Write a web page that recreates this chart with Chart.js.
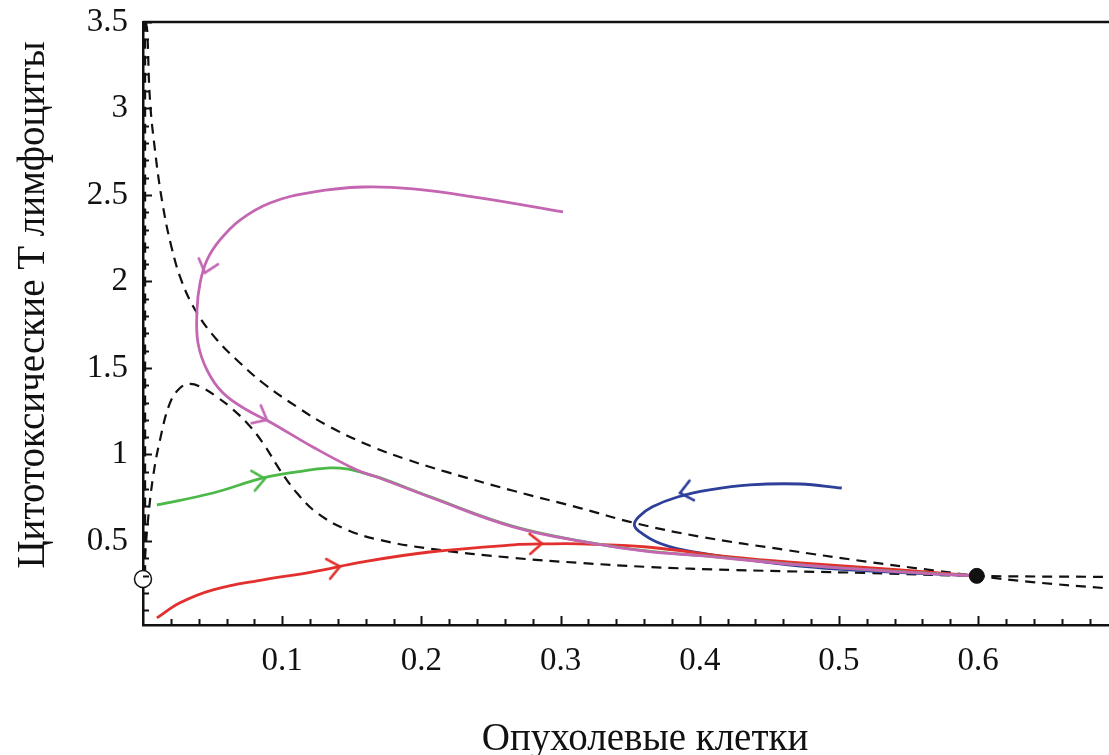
<!DOCTYPE html>
<html>
<head>
<meta charset="utf-8">
<title>Фазовый портрет</title>
<script src="https://cdn.jsdelivr.net/npm/chart.js@4.4.1/dist/chart.umd.min.js"></script>
<style>
  html, body { margin: 0; padding: 0; background: #fff; overflow: hidden; }
  canvas { display: block; }
</style>
</head>
<body>
<canvas id="phaseChart" width="1109" height="755"></canvas>
<script>
// tick labels and axis titles
var xTickValues = [0.1, 0.2, 0.3, 0.4, 0.5, 0.6];
var yTickValues = [0.5, 1, 1.5, 2, 2.5, 3, 3.5];
var xTitle = "Опухолевые клетки";
var yTitle = "Цитотоксические Т лимфоциты";

// nullclines (dashed)
var upperNullX = [0.002, 0.003, 0.005, 0.0086, 0.0136, 0.0201, 0.028, 0.0388, 0.0532, 0.0697, 0.0862, 0.1106, 0.1343, 0.1652, 0.19, 0.218, 0.266, 0.314, 0.353, 0.40, 0.46, 0.52, 0.5675, 0.599, 0.639, 0.694];
var upperNullY = [3.5, 3.454, 3.049, 2.76, 2.47, 2.211, 1.997, 1.818, 1.662, 1.529, 1.413, 1.275, 1.159, 1.043, 0.97, 0.899, 0.79, 0.69, 0.604, 0.525, 0.45, 0.38, 0.33, 0.298, 0.262, 0.225];

var lowerNullX = [0.0005, 0.0014, 0.0036, 0.0072, 0.0122, 0.0194, 0.0266, 0.0338, 0.0431, 0.0532, 0.0625, 0.0747, 0.0862, 0.0984, 0.1106, 0.125, 0.1466, 0.170, 0.206, 0.266, 0.314, 0.362, 0.424, 0.52, 0.599, 0.694];
var lowerNullY = [0.30, 0.4075, 0.621, 0.87, 1.084, 1.298, 1.384, 1.408, 1.384, 1.332, 1.275, 1.182, 1.066, 0.910, 0.777, 0.662, 0.564, 0.506, 0.455, 0.402, 0.373, 0.35, 0.332, 0.315, 0.298, 0.292];

var axisNullX = [0.0015, 0.0015];
var axisNullY = [0.30, 3.5];

// trajectories
var magentaX = [0.3017, 0.242, 0.194, 0.158, 0.122, 0.0912, 0.0697, 0.0553, 0.046, 0.041, 0.0388, 0.0395, 0.046, 0.0575, 0.0747, 0.0912, 0.122, 0.1537, 0.170, 0.206, 0.266, 0.32, 0.362, 0.40, 0.472, 0.544, 0.599];
var magentaY = [2.402, 2.483, 2.535, 2.546, 2.517, 2.454, 2.355, 2.24, 2.124, 1.991, 1.835, 1.645, 1.488, 1.355, 1.257, 1.188, 1.043, 0.910, 0.864, 0.754, 0.581, 0.49, 0.44, 0.415, 0.361, 0.321, 0.298];

var greenX = [0.01, 0.0503, 0.0862, 0.1106, 0.1343, 0.1466, 0.158, 0.170, 0.206, 0.266, 0.32, 0.362, 0.40, 0.472, 0.544, 0.599];
var greenY = [0.708, 0.777, 0.864, 0.899, 0.922, 0.916, 0.893, 0.866, 0.756, 0.584, 0.492, 0.442, 0.416, 0.362, 0.322, 0.298];

var redX = [0.01, 0.0266, 0.0503, 0.0862, 0.122, 0.158, 0.206, 0.266, 0.290, 0.314, 0.362, 0.422, 0.472, 0.544, 0.599];
var redY = [0.055, 0.142, 0.217, 0.275, 0.321, 0.379, 0.436, 0.477, 0.483, 0.483, 0.465, 0.408, 0.373, 0.332, 0.298];

var blueX = [0.502, 0.472, 0.436, 0.407, 0.384, 0.366, 0.356, 0.353, 0.357, 0.369, 0.388, 0.424, 0.472, 0.520, 0.5675, 0.599];
var blueY = [0.806, 0.829, 0.824, 0.795, 0.754, 0.697, 0.639, 0.592, 0.552, 0.494, 0.448, 0.402, 0.355, 0.327, 0.309, 0.298];

// arrow heads sitting on the trajectories
var magentaArrowX = [0.0445, 0.089];
var magentaArrowY = [2.05, 1.2];
var greenArrowX = [0.0876];
var greenArrowY = [0.86];
var redArrowX = [0.1415, 0.2866];
var redArrowY = [0.352, 0.485];
var blueArrowX = [0.3858];
var blueArrowY = [0.777];

// equilibrium points
var stableX = [0.599];
var stableY = [0.298];
var unstableX = [0];
var unstableY = [0.28];

var MAGENTA = "#c466b2";
var GREEN = "#4cb848";
var RED = "#e2302e";
var BLUE = "#2d3f99";
var INK = "#111111";
var SERIF = "'Liberation Serif', 'Times New Roman', serif";

function toPoints(xs, ys) {
  var pts = [];
  for (var i = 0; i < xs.length; i++) {
    pts.push({ x: xs[i], y: ys[i] });
  }
  return pts;
}

function makeChevron(color) {
  var c = document.createElement("canvas");
  c.width = 30;
  c.height = 30;
  var g = c.getContext("2d");
  g.strokeStyle = color;
  g.lineWidth = 2.6;
  g.lineCap = "round";
  g.beginPath();
  g.moveTo(3, 5);
  g.lineTo(15, 15);
  g.lineTo(3, 25);
  g.stroke();
  return c;
}

// direction of the trajectory at the arrow, in screen degrees
function arrowAngle(ctx, xs, ys) {
  var p = ctx.raw;
  var sx = ctx.chart.scales.x;
  var sy = ctx.chart.scales.y;
  if (!p || !sx || !sy) return 0;
  var px = sx.getPixelForValue(p.x);
  var py = sy.getPixelForValue(p.y);
  var best = 0;
  var bestD = Infinity;
  for (var i = 0; i < xs.length - 1; i++) {
    var ax = sx.getPixelForValue(xs[i]), ay = sy.getPixelForValue(ys[i]);
    var bx = sx.getPixelForValue(xs[i + 1]), by = sy.getPixelForValue(ys[i + 1]);
    var dx = bx - ax, dy = by - ay;
    var t = ((px - ax) * dx + (py - ay) * dy) / (dx * dx + dy * dy);
    t = Math.max(0, Math.min(1, t));
    var d = Math.hypot(ax + t * dx - px, ay + t * dy - py);
    if (d < bestD) {
      bestD = d;
      best = i;
    }
  }
  var x0 = sx.getPixelForValue(xs[best]), y0 = sy.getPixelForValue(ys[best]);
  var x1 = sx.getPixelForValue(xs[best + 1]), y1 = sy.getPixelForValue(ys[best + 1]);
  return Math.atan2(y1 - y0, x1 - x0) * 180 / Math.PI;
}

function curve(xs, ys, color, width, dash) {
  return {
    data: toPoints(xs, ys),
    showLine: true,
    borderColor: color,
    borderWidth: width,
    borderDash: dash || [],
    tension: 0.4,
    pointRadius: 0,
    fill: false
  };
}

function arrows(ax, ay, xs, ys, color) {
  return {
    data: toPoints(ax, ay),
    showLine: false,
    pointStyle: makeChevron(color),
    pointRadius: 6,
    pointRotation: function (ctx) { return arrowAngle(ctx, xs, ys); }
  };
}

// inward ticks, the top frame line and the axis titles
var framePlugin = {
  id: "frame",
  afterDraw: function (chart) {
    var ctx = chart.ctx;
    var area = chart.chartArea;
    var sx = chart.scales.x;
    var sy = chart.scales.y;
    ctx.save();
    ctx.strokeStyle = INK;
    ctx.lineWidth = 2;
    ctx.beginPath();
    for (var i = 1; i * 0.02 <= sx.max; i++) {
      var xp = Math.round(sx.getPixelForValue(i * 0.02)) + 0.5;
      var lx = i % 5 === 0 ? 9 : 6;
      ctx.moveTo(xp, area.bottom);
      ctx.lineTo(xp, area.bottom - lx);
    }
    for (var j = 1; j * 0.1 <= sy.max + 1e-9; j++) {
      var yp = Math.round(sy.getPixelForValue(j * 0.1)) + 0.5;
      var ly = j % 5 === 0 ? 9 : 6;
      ctx.moveTo(area.left, yp);
      ctx.lineTo(area.left + ly, yp);
    }
    ctx.stroke();

    ctx.lineWidth = 2.5;
    ctx.beginPath();
    ctx.moveTo(area.left, area.top);
    ctx.lineTo(area.right, area.top);
    ctx.stroke();

    ctx.fillStyle = INK;
    ctx.font = "39px " + SERIF;
    ctx.textAlign = "center";
    ctx.textBaseline = "alphabetic";
    ctx.fillText(xTitle, 645, 750);
    ctx.translate(44, 305);
    ctx.rotate(-Math.PI / 2);
    ctx.fillText(yTitle, 0, 0);
    ctx.restore();
  }
};

var datasets = [
  {
    data: toPoints(unstableX, unstableY),
    showLine: false,
    pointRadius: 8.5,
    pointBackgroundColor: "#ffffff",
    pointBorderColor: INK,
    pointBorderWidth: 1.5,
    clip: false
  },
  {
    data: toPoints(stableX, stableY),
    showLine: false,
    pointRadius: 7.5,
    pointBackgroundColor: INK,
    pointBorderColor: INK,
    pointBorderWidth: 1,
    clip: false
  },
  arrows(magentaArrowX, magentaArrowY, magentaX, magentaY, MAGENTA),
  arrows(greenArrowX, greenArrowY, greenX, greenY, GREEN),
  arrows(redArrowX, redArrowY, redX, redY, RED),
  arrows(blueArrowX, blueArrowY, blueX, blueY, BLUE),
  curve(magentaX, magentaY, MAGENTA, 2.8),
  curve(greenX, greenY, GREEN, 2.8),
  curve(redX, redY, RED, 2.8),
  curve(blueX, blueY, BLUE, 2.8),
  curve(upperNullX, upperNullY, INK, 2.2, [10, 7]),
  curve(lowerNullX, lowerNullY, INK, 2.2, [10, 7]),
  curve(axisNullX, axisNullY, INK, 2.2, [10, 7])
];

var chart = new Chart(document.getElementById("phaseChart"), {
  type: "scatter",
  data: { datasets: datasets },
  options: {
    responsive: false,
    animation: false,
    events: [],
    layout: {
      autoPadding: false,
      padding: { top: 22, right: 0, bottom: 0, left: 0 }
    },
    plugins: {
      legend: { display: false },
      tooltip: { enabled: false }
    },
    scales: {
      x: {
        type: "linear",
        min: 0,
        max: 0.694,
        afterBuildTicks: function (scale) {
          scale.ticks = xTickValues.map(function (v) { return { value: v }; });
        },
        afterFit: function (scale) {
          scale.height = 130;
          scale.paddingLeft = 0;
          scale.paddingRight = 0;
        },
        ticks: {
          padding: 17,
          color: INK,
          font: { family: SERIF, size: 33 },
          callback: function (v) { return String(v); }
        },
        grid: { drawOnChartArea: false, drawTicks: false },
        border: { color: INK, width: 2.5 }
      },
      y: {
        type: "linear",
        min: 0.014,
        max: 3.5,
        afterBuildTicks: function (scale) {
          scale.ticks = yTickValues.map(function (v) { return { value: v }; });
        },
        afterFit: function (scale) {
          scale.width = 143;
          scale.paddingTop = 0;
          scale.paddingBottom = 0;
        },
        ticks: {
          padding: 15,
          color: INK,
          font: { family: SERIF, size: 33 },
          callback: function (v) { return String(v); }
        },
        grid: { drawOnChartArea: false, drawTicks: false },
        border: { color: INK, width: 2.5 }
      }
    }
  },
  plugins: [framePlugin]
});
</script>
</body>
</html>
